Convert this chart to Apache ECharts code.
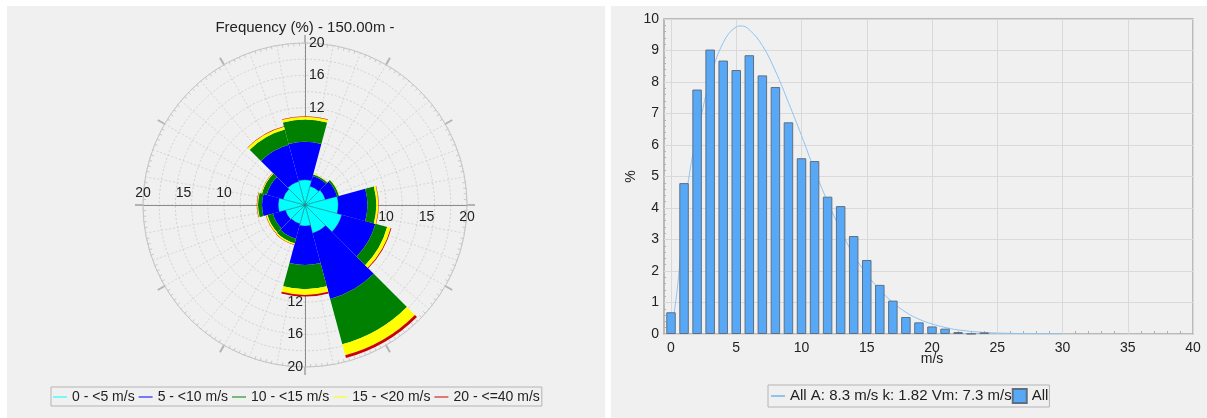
<!DOCTYPE html>
<html><head><meta charset="utf-8">
<script src="https://cdn.jsdelivr.net/npm/echarts@6/dist/echarts.min.js"></script>
<style>
html,body{margin:0;padding:0;background:#fff;}
#wrap{position:relative;width:1207px;height:418px;overflow:hidden;}
.panel{position:absolute;background:#f0f0f0;}
#chart{position:absolute;left:0;top:0;width:1207px;height:418px;}
</style></head><body>
<div id="wrap">
<div class="panel" style="left:7px;top:6px;width:598px;height:412px"></div>
<div class="panel" style="left:611px;top:6px;width:596px;height:412px"></div>
<div id="chart"></div>
</div>
<script>
// ---------- data ----------
const roseTitle = 'Frequency (%) - 150.00m -';
const sectors = ['N', '30°', '60°', 'E', '120°', '150°', 'S', '210°', '240°', 'W', '300°', '330°'];
const speedBins = ['0 - <5 m/s', '5 - <10 m/s', '10 - <15 m/s', '15 - <20 m/s', '20 - <=40 m/s'];
// frequency (%) per sector for each speed bin (stacked)
const freq0to5   = [3.1, 2.4, 2.6, 4.1, 4.7, 3.6, 2.6, 2.4, 2.5, 3.3, 2.8, 3.0];
const freq5to10  = [4.7, 1.3, 1.5, 3.6, 4.3, 8.4, 4.8, 1.9, 1.6, 2.0, 2.1, 4.7];
const freq10to15 = [2.75, 0.2, 0.25, 1.1, 1.5, 5.8, 3.0, 0.6, 0.7, 0.5, 0.6, 1.95];
const freq15to20 = [0.35, 0.05, 0.05, 0.25, 0.45, 1.4, 0.7, 0.15, 0.15, 0.1, 0.1, 0.35];
const freq20to40 = [0.05, 0, 0, 0.05, 0.1, 0.35, 0.2, 0.05, 0.05, 0.05, 0.02, 0.05];
const roseSeriesData = [freq0to5, freq5to10, freq10to15, freq15to20, freq20to40];
const roseColors = ['#00ffff', '#0000ff', '#008000', '#ffff00', '#cc0000'];

const histSpeeds  = [0, 1, 2, 3, 4, 5, 6, 7, 8, 9, 10, 11, 12, 13, 14, 15, 16, 17, 18, 19, 20, 21, 22, 23, 24];
const histPercent = [0.69, 4.79, 7.76, 9.03, 8.68, 8.38, 8.85, 8.21, 7.84, 6.72, 5.58, 5.49, 4.36, 4.06, 3.11, 2.35, 1.56, 1.06, 0.54, 0.37, 0.24, 0.17, 0.06, 0.01, 0.05];
const fitSpeeds  = [0, 0.5, 1, 1.5, 2, 3, 4, 5, 5.4, 6, 7, 8, 9, 10, 11, 12, 13, 14, 15, 16, 17, 18, 19, 20, 21, 22, 24, 26, 28, 30];
const fitPercent = [0, 1.5, 3.8, 5.3, 6.3, 8.1, 9.25, 9.75, 9.78, 9.66, 9.16, 8.35, 7.35, 6.3, 5.2, 4.2, 3.3, 2.5, 1.9, 1.4, 1.0, 0.69, 0.47, 0.32, 0.21, 0.13, 0.05, 0.02, 0.01, 0];
const fitName = 'All A: 8.3 m/s k: 1.82 Vm: 7.3 m/s';
const histName = 'All';
const vertTickMin = 12;   // labels shown on vertical radial axis from this value
const horizTickMin = 10;  // labels shown on horizontal radial axis from this value

// ---------- chart ----------
const FONT = '"Liberation Sans", Arial, Helvetica, sans-serif';
const C = [305, 205], R = 162;
const chart = echarts.init(document.getElementById('chart'), null, {renderer: 'canvas'});
const lblStyle = {fontSize: 14, color: '#222', fontFamily: FONT};
function radial(polarIndex, interval, minShow, labelExtra) {
  return {
    polarIndex, type: 'value', min: 0, max: 20, interval,
    axisLine: {show: true, lineStyle: {color: '#8c8c8c', width: 1}},
    axisTick: {show: false}, splitLine: {show: false},
    axisLabel: Object.assign({formatter: v => (v >= minShow ? String(v) : '')}, lblStyle, labelExtra)
  };
}
const polars = [];
for (let i = 0; i < 7; i++) polars.push({center: C, radius: R});

const option = {
  animation: false,
  textStyle: {fontFamily: FONT},
  title: {text: roseTitle, left: 305, top: 20, padding: 0, textAlign: 'center',
    textStyle: {fontSize: 15, fontWeight: 'normal', color: '#222', fontFamily: FONT}},
  polar: polars,
  angleAxis: [
    {polarIndex: 0, type: 'value', min: 0, max: 360, interval: 10, startAngle: 90, clockwise: true,
      axisLine: {show: true, lineStyle: {color: '#c4c4c4', width: 1}},
      axisTick: {show: false, inside: true},
      minorTick: {show: true, splitNumber: 5, length: 3, lineStyle: {color: '#c8c8c8'}},
      axisLabel: {show: false},
      splitLine: {show: true, lineStyle: {color: '#d4d4d4', type: [2, 2]}}},
    {polarIndex: 1, type: 'value', min: 0, max: 360, interval: 30, startAngle: 90, clockwise: true,
      axisLine: {show: false}, axisLabel: {show: false}, splitLine: {show: false},
      axisTick: {show: true, length: 8, lineStyle: {color: '#b4b4b4', width: 2}}},
    {polarIndex: 2, type: 'category', data: sectors, startAngle: 105, clockwise: true, boundaryGap: true, show: false},
    {polarIndex: 3, type: 'value', startAngle: 90, show: false},
    {polarIndex: 4, type: 'value', startAngle: 0, show: false},
    {polarIndex: 5, type: 'value', startAngle: 270, show: false},
    {polarIndex: 6, type: 'value', startAngle: 180, show: false}
  ],
  radiusAxis: [
    {polarIndex: 0, type: 'value', min: 0, max: 20, interval: 2,
      axisLine: {show: false}, axisTick: {show: false}, axisLabel: {show: false},
      splitLine: {show: true, lineStyle: {color: '#d0d0d0', type: [2, 2]}}},
    {polarIndex: 1, type: 'value', min: 0, max: 20, show: false},
    {polarIndex: 2, type: 'value', min: 0, max: 20, show: false},
    radial(3, 4, vertTickMin, {margin: -4, align: 'left'}),
    radial(4, 5, horizTickMin, {margin: -5, verticalAlign: 'top'}),
    radial(5, 4, vertTickMin, {margin: -2, align: 'right'}),
    radial(6, 5, horizTickMin, {margin: -5, verticalAlign: 'bottom'})
  ],
  grid: [
    {left: 671, right: 14, top: 19, bottom: 84, show: false},
    {left: 664, right: 14, top: 19, bottom: 84, show: true, borderColor: '#a8a8a8', borderWidth: 1.5, backgroundColor: 'transparent'}
  ],
  xAxis: [
    {gridIndex: 0, type: 'value', min: 0, max: 40, interval: 5, name: 'm/s', nameLocation: 'middle', nameGap: 18,
      nameMoveOverlap: false, nameTextStyle: lblStyle,
      axisLine: {show: false}, axisTick: {show: false, inside: true},
      minorTick: {show: true, splitNumber: 5, length: 3, lineStyle: {color: '#b0b0b0'}},
      splitLine: {show: true, lineStyle: {color: '#d9d9d9'}},
      axisLabel: Object.assign({margin: 7}, lblStyle)},
    {gridIndex: 1, type: 'value', min: 0, max: 1, show: false}
  ],
  yAxis: [
    {gridIndex: 0, type: 'value', min: 0, max: 10, show: false},
    {gridIndex: 1, type: 'value', min: 0, max: 10, interval: 1, name: '%', nameLocation: 'middle', nameGap: 26, nameRotate: 90,
      nameTextStyle: lblStyle,
      axisLine: {show: false}, axisTick: {show: false, inside: true},
      minorTick: {show: true, splitNumber: 5, length: 2, lineStyle: {color: '#b0b0b0'}},
      splitLine: {show: true, lineStyle: {color: '#d9d9d9'}},
      axisLabel: Object.assign({margin: 5}, lblStyle)}
  ],
  legend: [
    {data: speedBins, left: 51, top: 387, itemWidth: 14, itemHeight: 1, itemGap: 4, icon: 'rect',
      padding: [3, 2, 2, 2], borderColor: '#b4b4b4', borderWidth: 1, selectedMode: false,
      itemStyle: {borderWidth: 0}, textStyle: lblStyle},
    {data: [{name: fitName, itemStyle: {opacity: 0}}, {name: histName, icon: 'rect'}], left: 768, top: 385, itemWidth: 14, itemHeight: 14, itemGap: 0,
      padding: [3, 1, 3, 2], borderColor: '#b4b4b4', borderWidth: 1, selectedMode: false,
      textStyle: Object.assign({}, lblStyle, {fontSize: 15})}
  ],
  series: [
    ...speedBins.map((name, i) => ({
      type: 'bar', coordinateSystem: 'polar', polarIndex: 2, name, stack: 'rose',
      data: roseSeriesData[i], barCategoryGap: '0%', barGap: '0%',
      itemStyle: {color: roseColors[i], borderWidth: i === 0 ? 0.5 : 0, borderColor: '#1a7a7a'},
      emphasis: {disabled: true}, silent: true, z: 3
    })),
    {type: 'line', name: fitName, xAxisIndex: 0, yAxisIndex: 0, data: fitSpeeds.map((s, i) => [s, fitPercent[i]]),
      smooth: 0.4, symbol: 'none', lineStyle: {color: '#8cc4f2', width: 1}, itemStyle: {color: '#8cc4f2'}, z: 1, silent: true},
    {type: 'bar', name: histName, xAxisIndex: 0, yAxisIndex: 0, data: histSpeeds.map((s, i) => [s, histPercent[i]]),
      barWidth: 9.5, clip: false, itemStyle: {color: '#57a9f7', borderColor: '#5f6f80', borderWidth: 1}, z: 2, silent: true}
  ]
};
chart.setOption(option);
</script>
</body></html>
